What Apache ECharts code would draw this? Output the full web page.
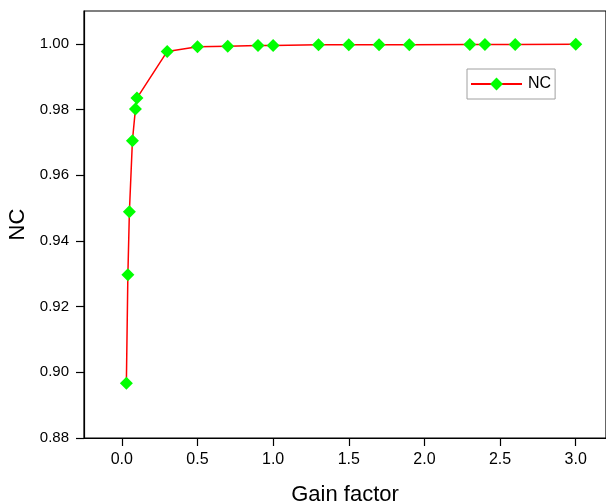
<!DOCTYPE html>
<html>
<head>
<meta charset="utf-8">
<script src="https://cdn.jsdelivr.net/npm/echarts@6/dist/echarts.min.js"></script>
<style>
html,body{margin:0;padding:0;background:#fff;}
#chart{width:606px;height:504px;}
</style>
</head>
<body>
<div id="chart"></div>
<script>
var gainFactor = [0.03, 0.04, 0.05, 0.07, 0.09, 0.1, 0.3, 0.5, 0.7, 0.9, 1.0, 1.3, 1.5, 1.7, 1.9, 2.3, 2.4, 2.6, 3.0];
var ncValues = [0.8967, 0.9297, 0.9489, 0.9705, 0.9802, 0.9835, 0.9977, 0.9991, 0.9993, 0.9995, 0.9995, 0.9997, 0.9997, 0.9997, 0.9997, 0.9998, 0.9998, 0.9998, 0.9999];
var xTicks = [0, 0.5, 1.0, 1.5, 2.0, 2.5, 3.0];
var yTicks = [0.88, 0.90, 0.92, 0.94, 0.96, 0.98, 1.00];
var seriesName = 'NC';

var chart = echarts.init(document.getElementById('chart'), null, {renderer: 'canvas'});
var font = 'Liberation Sans, Arial, sans-serif';
chart.setOption({
  animation: false,
  backgroundColor: '#fff',
  grid: {left: 84, top: 11, right: 0, bottom: 66, outerBoundsMode: 'none', containLabel: false,
    show: true, borderColor: '#000', borderWidth: 1.2, backgroundColor: 'transparent'},
  legend: {
    left: 467, top: 69,
    padding: [7, 4, 7, 3],
    itemWidth: 51, itemHeight: 16, itemGap: 5,
    borderColor: '#a0a0a0', borderWidth: 1,
    textStyle: {fontFamily: font, fontSize: 16, color: '#000', padding: [0,0,0,1]},
    data: [seriesName]
  },
  xAxis: {
    type: 'value', min: -0.25, max: 3.2,
    name: 'Gain factor', nameLocation: 'middle', nameGap: 46,
    nameTextStyle: {fontFamily: font, fontSize: 22, color: '#000'},
    axisLine: {show: true, onZero: false, lineStyle: {color: '#000', width: 1.2}},
    axisTick: {show: true, inside: false, length: 8, customValues: xTicks, lineStyle: {color: '#000', width: 1.2}},
    axisLabel: {customValues: xTicks, margin: 14, fontFamily: font, fontSize: 16, color: '#000',
      formatter: function (v) { return v.toFixed(1); }},
    splitLine: {show: false}
  },
  yAxis: {
    type: 'value', min: 0.88, max: 1.01,
    name: 'NC', nameLocation: 'middle', nameGap: 55, nameRotate: 90,
    nameTextStyle: {fontFamily: font, fontSize: 22, color: '#000'},
    axisLine: {show: true, onZero: false, lineStyle: {color: '#000', width: 1.2}},
    axisTick: {show: true, inside: false, length: 8, customValues: yTicks, lineStyle: {color: '#000', width: 1.2}},
    axisLabel: {customValues: yTicks, margin: 15, fontFamily: font, fontSize: 15, color: '#000',
      formatter: function (v) { return v.toFixed(2); }},
    splitLine: {show: false}
  },
  series: [{
    name: seriesName,
    type: 'line',
    data: gainFactor.map(function (x, i) { return [x, ncValues[i]]; }),
    symbol: 'diamond',
    symbolSize: 13,
    showAllSymbol: true,
    lineStyle: {color: '#ff0000', width: 1.5},
    itemStyle: {color: '#00ff00', borderWidth: 0}
  }]
});
</script>
</body>
</html>
